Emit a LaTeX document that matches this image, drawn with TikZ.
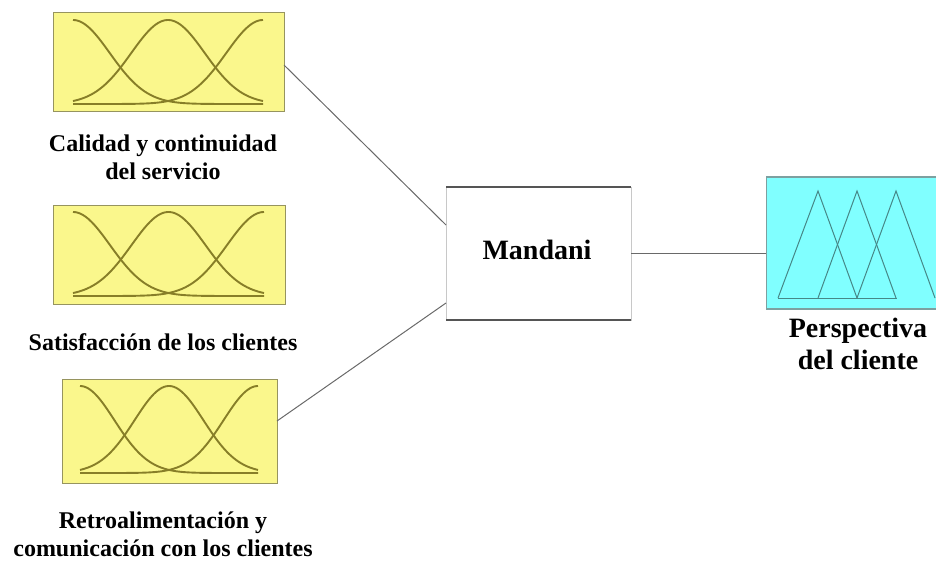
\documentclass[tikz,border=0pt]{standalone}
\usepackage{fontspec}
\setmainfont{Liberation Serif}
\usetikzlibrary{calc}

\definecolor{mfyellow}{RGB}{250,247,140}
\definecolor{mfyellowedge}{RGB}{150,148,95}
\definecolor{mfolive}{RGB}{135,126,40}
\definecolor{mfcyan}{RGB}{128,255,255}
\definecolor{mfcyanedge}{RGB}{125,160,160}
\definecolor{mfteal}{RGB}{70,135,135}
\definecolor{linkgray}{RGB}{105,105,105}
\definecolor{sidegray}{RGB}{200,200,200}
\definecolor{rimgray}{RGB}{85,85,85}

\tikzset{
  inputbox/.style={draw=mfyellowedge, fill=mfyellow, line width=1pt, inner sep=0pt, outer sep=0pt},
  outputbox/.style={fill=mfcyan, inner sep=0pt, outer sep=0pt},
  enginebox/.style={draw=sidegray, fill=white, line width=1pt, inner sep=0pt, outer sep=0pt},
  mfcurve/.style={draw=mfolive, line width=1.9pt, line join=round},
  mftri/.style={draw=mfteal, line width=1pt, line join=miter},
  link/.style={draw=linkgray, line width=1pt},
  label/.style={font=\bfseries\fontsize{24}{28}\selectfont, align=center, inner sep=0pt},
  biglabel/.style={font=\bfseries\fontsize{28}{32}\selectfont, align=center, inner sep=0pt},
}

% three Gaussian membership curves between left/right extents #1,#2, peak height #3, base #4
\newcommand\gaussset[4]{%
  \pgfmathsetmacro\gsA{#1}%
  \pgfmathsetmacro\gsC{#2}%
  \pgfmathsetmacro\gsB{(#1+#2)/2}%
  \pgfmathsetmacro\gsSig{0.387*(#2-#1)/2}%
  \pgfmathsetmacro\gsH{#4-#3}%
  \foreach \ctr in {\gsA,\gsB,\gsC}{%
    \draw[mfcurve] plot[domain=#1:#2, samples=90, smooth]
      (\x,{#4-\gsH*exp(-0.5*((\x-\ctr)/\gsSig)^2)});
  }%
}

\begin{document}
\begin{tikzpicture}[x=1pt, y=-1pt]
  \useasboundingbox (0,0) rectangle (936,565);

  % input variables
  \node[inputbox, minimum width=231pt, minimum height=99pt] (in1) at (168.5,61.5) {};
  \gaussset{73}{263}{20}{104}
  \node[inputbox, minimum width=232pt, minimum height=99pt] (in2) at (169,254.5) {};
  \gaussset{73}{264}{212}{296}
  \node[inputbox, minimum width=215pt, minimum height=104pt] (in3) at (169.5,431) {};
  \gaussset{80}{258}{386}{473}

  \node[label] (l1) at (163,157) {Calidad y continuidad\\del servicio};
  \node[label] (l2) at (163,342) {Satisfacción de los clientes};
  \node[label] (l3) at (163,534) {Retroalimentación y\\comunicación con los clientes};

  % inference engine
  \node[enginebox, minimum width=185pt, minimum height=133pt] (eng) at (538.5,253.5) {};
  \draw[rimgray, line width=2pt] (eng.north west) -- (eng.north east);
  \draw[rimgray, line width=2pt] (eng.south west) -- (eng.south east);
  \node[biglabel] (engtxt) at (537,250) {Mandani};

  % output variable
  \node[outputbox, minimum width=170pt, minimum height=132pt] (out) at (851,243) {};
  \draw[mfcyanedge, line width=1.5pt] (out.north west) -- (out.north east);
  \draw[mfcyanedge, line width=1.5pt] (out.south west) -- (out.south east);
  \draw[mfcyanedge, line width=1pt] (out.north west) -- (out.south west);
  \draw[mftri] (778,298) -- (818,191) -- (857,298);
  \draw[mftri] (818,298) -- (857,191) -- (896,298);
  \draw[mftri] (857,298) -- (896,191) -- (935,298);
  \draw[mftri] (778,298) -- (897,298);
  \node[biglabel] (l4) at (858,344) {Perspectiva\\del cliente};

  % connectors
  \draw[link] ($(in1.east)+(0,3.5)$) -- ($(eng.west)+(0,-28.5)$);
  \draw[link] ($(in3.east)+(0,-10)$) -- ($(eng.west)+(0,49.5)$);
  \draw[link] (eng.east) -- (out.west |- eng.east);
\end{tikzpicture}
\end{document}
